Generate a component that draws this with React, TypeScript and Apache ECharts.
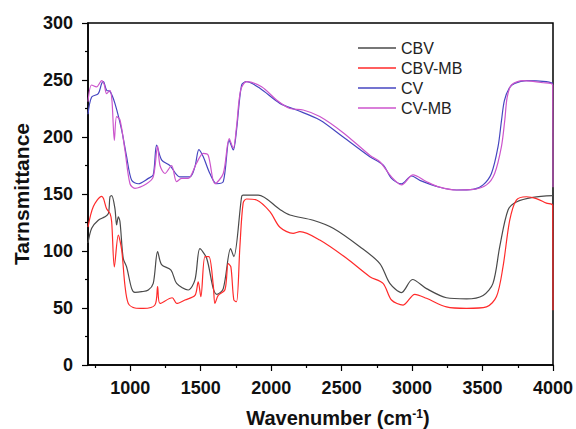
import React, { useEffect, useRef } from "react";
import * as echarts from "echarts";

const FONT = "'Liberation Sans', Arial, sans-serif";

const seriesNames = ["CBV", "CBV-MB", "CV", "CV-MB"];
const seriesColors = ["#4a4a4a", "#ff2a2a", "#4646c0", "#cc55cc"];

const xMajorTicks = [1000, 1500, 2000, 2500, 3000, 3500, 4000];
const xMinorTicks = [750, 1250, 1750, 2250, 2750, 3250, 3750];

// CBV (gray)
const cbvX = [700, 726, 773, 820, 845, 856, 868, 891, 903, 915, 927, 950, 974, 1010, 1033, 1081, 1128, 1163, 1194, 1222, 1289, 1329, 1411, 1459, 1494, 1542, 1589, 1615, 1660, 1712, 1735, 1790, 1801, 1908, 2062, 2133, 2298, 2440, 2629, 2771, 2842, 2925, 3003, 3102, 3244, 3386, 3504, 3574, 3622, 3681, 3740, 3858, 4000];
const cbvY = [107, 120, 127, 130, 133, 147.6, 148.5, 137.4, 122.8, 130, 125.7, 93.6, 86, 67, 63.7, 64.3, 65.8, 71.6, 99.4, 88, 83.3, 71.6, 65.8, 74.6, 102, 93.6, 67, 62, 67, 102, 95, 147.6, 149, 149, 136.5, 131.6, 127, 120, 103.8, 89, 71.6, 63.5, 75, 67, 59, 58, 61, 71.6, 103.8, 136, 143, 147, 148.5];

// CBV-MB (red)
const cbvmbX = [700, 738, 797, 810, 832, 856, 868, 887, 915, 939, 962, 986, 1033, 1092, 1175, 1194, 1211, 1298, 1329, 1388, 1459, 1482, 1501, 1530, 1558, 1589, 1601, 1624, 1672, 1695, 1714, 1735, 1754, 1778, 1801, 1825, 1896, 1991, 2062, 2156, 2204, 2345, 2535, 2700, 2794, 2854, 2936, 3019, 3102, 3244, 3386, 3528, 3599, 3645, 3693, 3740, 3811, 3882, 3953, 3998, 4000];
const cbvmbY = [121, 139, 148, 146, 137, 133, 125.7, 86, 114, 101, 70, 54, 50, 49.6, 52.6, 68.7, 54, 59, 54, 57, 61, 73, 60, 95, 95, 70, 54, 61, 66, 89, 86, 57, 55.5, 104, 142, 145.6, 144.7, 134.5, 120.8, 115.5, 117, 109.6, 93.6, 77.5, 71.6, 57, 52.6, 62, 58.5, 51, 49.7, 51, 60, 86, 127, 144.7, 147.6, 146, 142, 140, 48];

// CV (blue)
const cvX = [700, 726, 773, 797, 809, 832, 856, 891, 939, 974, 1010, 1057, 1128, 1163, 1187, 1222, 1281, 1352, 1423, 1459, 1487, 1518, 1565, 1613, 1660, 1702, 1731, 1754, 1790, 1825, 1920, 2062, 2180, 2345, 2511, 2700, 2794, 2854, 2925, 2996, 3055, 3196, 3315, 3433, 3504, 3563, 3610, 3635, 3655, 3690, 3728, 3811, 3953, 4000];
const cvY = [220, 235, 238, 247, 248.5, 241, 240, 229.5, 206, 182.7, 162, 159, 163.7, 166.7, 193, 180, 175, 165, 165, 174, 189, 182.7, 168, 159, 160.8, 197, 188.6, 206, 245.6, 248.5, 242.7, 229.5, 223.7, 215, 200, 182.7, 175.4, 163.7, 158.8, 165.8, 162, 155.9, 153.5, 154, 158, 168, 191.5, 215, 232, 243, 247, 249.4, 248.5, 247];

// CV-MB (magenta)
const cvmbX = [700, 726, 761, 797, 815, 832, 856, 870, 887, 903, 927, 962, 998, 1033, 1116, 1163, 1194, 1211, 1246, 1293, 1329, 1364, 1411, 1470, 1518, 1553, 1601, 1660, 1702, 1731, 1754, 1783, 1825, 1932, 2038, 2133, 2227, 2345, 2511, 2700, 2771, 2854, 2925, 3007, 3100, 3196, 3315, 3433, 3528, 3586, 3634, 3658, 3675, 3705, 3788, 3930, 3998, 4000];
const cvmbY = [231, 245.6, 244, 249.4, 246, 238, 241, 232, 197, 217.8, 215, 188.6, 159, 155, 159, 165, 192, 175, 168, 175, 160.8, 163.7, 163.7, 177, 185.7, 184, 159, 168, 198.7, 190, 209, 241, 248.5, 244, 232.5, 225, 223.7, 218, 203.8, 184, 178.3, 165, 158, 166.7, 161, 156, 153.5, 154, 158, 168, 191.5, 215, 235, 245.6, 249.4, 247.6, 245.6, 156];

const xs = [cbvX, cbvmbX, cvX, cvmbX];
const ys = [cbvY, cbvmbY, cvY, cvmbY];

export default function App() {
  const ref = useRef<HTMLDivElement>(null);
  useEffect(() => {
    if (!ref.current) return;
    const chart = echarts.init(ref.current, undefined, { renderer: "svg" });
    const series = seriesNames.map((name, i) => ({
      name,
      type: "line",
      xAxisIndex: 0,
      yAxisIndex: 0,
      symbol: "none",
      smooth: 0.3,
      lineStyle: { color: seriesColors[i], width: 1.2 },
      itemStyle: { color: seriesColors[i] },
      data: xs[i].map((x, j) => [x, ys[i][j]]),
    }));
    chart.setOption({
      animation: false,
      backgroundColor: "#ffffff",
      grid: {
        left: 88,
        right: 23,
        top: 23,
        bottom: 64,
        show: true,
        borderColor: "#000",
        borderWidth: 1.5,
        containLabel: false,
        outerBoundsMode: "none",
      },
      legend: {
        orient: "vertical",
        left: 353,
        top: 35,
        icon: "rect",
        itemWidth: 38,
        itemHeight: 1.5,
        itemGap: 4,
        textStyle: { fontFamily: FONT, fontSize: 16, color: "#222" },
        data: seriesNames,
      },
      xAxis: [
        {
          type: "value",
          min: 700,
          max: 4000,
          name: "Wavenumber (cm{sup|-1})",
          nameLocation: "middle",
          nameGap: 43,
          nameTextStyle: {
            fontFamily: FONT,
            fontSize: 20,
            fontWeight: "bold",
            color: "#111",
            padding: [0, 0, 0, 35],
            rich: {
              sup: { fontFamily: FONT, fontSize: 12, fontWeight: "bold", color: "#111", verticalAlign: "top", padding: [0, 0, 8, 0] },
            },
          },
          axisLine: { lineStyle: { color: "#000", width: 1.5 } },
          axisTick: { show: true, inside: false, length: 6, customValues: xMajorTicks, lineStyle: { color: "#000", width: 1.2 } },
          axisLabel: { customValues: xMajorTicks, margin: 14, fontFamily: FONT, fontSize: 18, fontWeight: "bold", color: "#111", formatter: (v: number) => String(v) },
          splitLine: { show: false },
        },
        {
          type: "value",
          min: 700,
          max: 4000,
          position: "bottom",
          axisLine: { show: false },
          axisTick: { show: true, inside: false, length: 3, customValues: xMinorTicks, lineStyle: { color: "#000", width: 1.2 } },
          axisLabel: { show: false },
          splitLine: { show: false },
        },
      ],
      yAxis: {
        type: "value",
        min: 0,
        max: 300,
        interval: 50,
        name: "Tarnsmittance",
        nameLocation: "middle",
        nameGap: 55,
        nameTextStyle: { fontFamily: FONT, fontSize: 21, fontWeight: "bold", color: "#111" },
        axisLine: { show: true, lineStyle: { color: "#000", width: 1.5 } },
        axisTick: { show: true, inside: false, length: 6, lineStyle: { color: "#000", width: 1.2 } },
        minorTick: { show: true, splitNumber: 2, length: 3, lineStyle: { color: "#000", width: 1.2 } },
        axisLabel: { margin: 15, fontFamily: FONT, fontSize: 18, fontWeight: "bold", color: "#111", formatter: (v: number) => String(v) },
        splitLine: { show: false },
      },
      series,
    });
    return () => chart.dispose();
  }, []);
  return <div ref={ref} style={{ position: "fixed", left: 0, top: 0, width: 576, height: 429 }} />;
}
